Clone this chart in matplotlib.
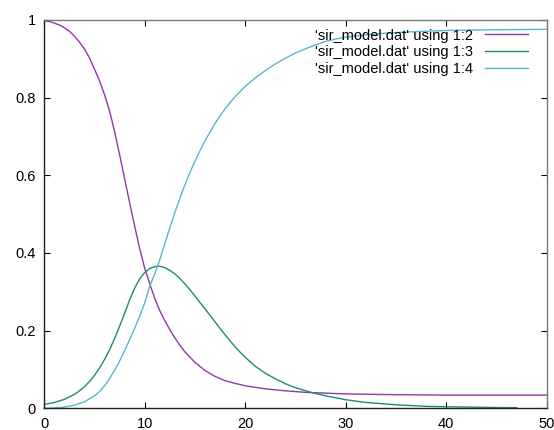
import numpy as np
import matplotlib.pyplot as plt
from matplotlib.ticker import FuncFormatter

plt.rcParams['font.family'] = ['Liberation Sans', 'DejaVu Sans']

# valores (columnas 1:2, 1:3, 1:4 de sir_model.dat)
t_s = [0, 0.5, 1, 1.5, 2, 2.5, 3, 3.5, 4, 4.5, 5, 5.5, 6, 6.5, 7, 7.5, 8, 8.5, 9,
       9.5, 10, 10.5, 11, 11.5, 12, 12.5, 13, 13.5, 14, 15, 16, 17, 18, 19, 20,
       21, 22, 24, 26, 28, 30, 35, 40, 50]
s = [0.998, 0.996, 0.992, 0.987, 0.980, 0.971, 0.958, 0.943, 0.925, 0.902, 0.873,
     0.843, 0.807, 0.765, 0.712, 0.652, 0.590, 0.528, 0.468, 0.410, 0.360, 0.320,
     0.282, 0.251, 0.225, 0.202, 0.181, 0.162, 0.145, 0.118, 0.097, 0.082, 0.071,
     0.064, 0.058, 0.054, 0.050, 0.045, 0.041, 0.039, 0.037, 0.035, 0.034, 0.034]

t_i = [0, 1, 2, 3, 3.5, 4, 4.5, 5, 5.5, 6, 6.5, 7, 7.5, 8, 8.5, 9, 9.5, 10, 10.5,
       11, 11.5, 12, 12.5, 13, 13.5, 14, 14.5, 15, 15.5, 16, 16.5, 17, 17.5, 18,
       18.5, 19, 19.5, 20, 21, 22, 23, 24, 25, 26, 27, 28, 29, 30, 32, 35, 38, 40,
       45, 47]
i = [0.010, 0.015, 0.023, 0.036, 0.045, 0.056, 0.069, 0.085, 0.104, 0.126, 0.151,
     0.180, 0.212, 0.245, 0.280, 0.310, 0.334, 0.350, 0.360, 0.365, 0.366, 0.362,
     0.355, 0.346, 0.334, 0.320, 0.305, 0.289, 0.272, 0.256, 0.239, 0.222, 0.205,
     0.189, 0.173, 0.158, 0.144, 0.131, 0.108, 0.090, 0.076, 0.063, 0.053, 0.045,
     0.038, 0.032, 0.027, 0.022, 0.015, 0.009, 0.005, 0.004, 0.002, 0.0015]

t_r = [0, 1, 2, 3, 4, 5, 5.5, 6, 6.5, 7, 7.5, 8, 8.5, 9, 9.5, 10, 10.5, 11, 11.5,
       12, 12.5, 13, 13.5, 14, 14.5, 15, 15.5, 16, 16.5, 17, 17.5, 18, 19, 20, 21,
       22, 23, 24, 25, 26, 27, 28, 29, 30, 32, 34, 36, 40, 45, 50]
r = [0.0, 0.001, 0.003, 0.008, 0.017, 0.032, 0.043, 0.058, 0.077, 0.098, 0.122,
     0.149, 0.177, 0.207, 0.238, 0.272, 0.315, 0.347, 0.383, 0.425, 0.466, 0.505,
     0.542, 0.576, 0.608, 0.637, 0.664, 0.689, 0.712, 0.734, 0.754, 0.772, 0.803,
     0.829, 0.851, 0.870, 0.887, 0.902, 0.915, 0.926, 0.936, 0.945, 0.951, 0.956,
     0.962, 0.966, 0.969, 0.973, 0.975, 0.976]

etiquetas = ["'sir_model.dat' using 1:2", "'sir_model.dat' using 1:3",
             "'sir_model.dat' using 1:4"]
colores = ['#8e3aa8', '#1e8c6e', '#5bb5cf']

fig = plt.figure(figsize=(5.54, 4.30), dpi=100)
ax = fig.add_axes([0.08, 0.0505, 0.907, 0.903])

ax.plot(t_s, s, color=colores[0], lw=1.0, label=etiquetas[0])
ax.plot(t_i, i, color=colores[1], lw=1.0, label=etiquetas[1])
ax.plot(t_r, r, color=colores[2], lw=1.0, label=etiquetas[2], clip_on=False)

ax.set_xlim(0, 50)
ax.set_ylim(0, 1)
ax.set_xticks(np.arange(0, 51, 10))
ax.set_yticks(np.arange(0, 1.01, 0.2))
fmt = FuncFormatter(lambda v, p: '%g' % round(v, 2))
ax.xaxis.set_major_formatter(fmt)
ax.yaxis.set_major_formatter(fmt)
ax.tick_params(direction='in', length=4, width=0.8, top=True, right=True,
               labelsize=10.5, pad=6)

for lado in ['left', 'bottom']:
    ax.spines[lado].set_color('#222222')
    ax.spines[lado].set_linewidth(1.0)
for lado in ['top', 'right']:
    ax.spines[lado].set_color('#777777')
    ax.spines[lado].set_linewidth(1.0)

ax.legend(loc='upper right', bbox_to_anchor=(0.962, 0.978), frameon=False,
          markerfirst=False, fontsize=10.5, handlelength=2.9, handletextpad=0.85,
          labelspacing=0.2, borderpad=0, borderaxespad=0)

plt.savefig('out.png', dpi=100)
